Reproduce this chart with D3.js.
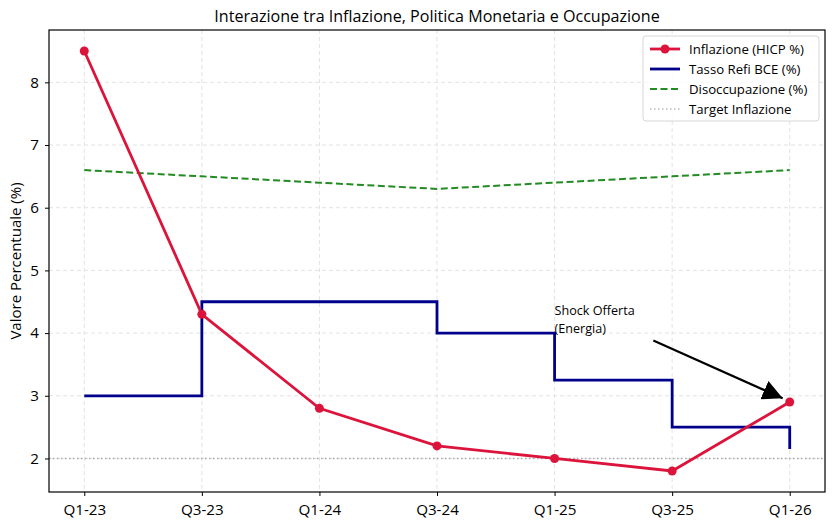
<!DOCTYPE html>
<html>
<head>
<meta charset="utf-8">
<script src="https://cdn.jsdelivr.net/npm/d3@7"></script>
<style>
  body { margin: 0; background: #fff; }
  svg text { font-family: "Open Sans", Roboto, sans-serif; fill: #000; }
</style>
</head>
<body>
<div class="div-chart"></div>
<script>
// data
const quarters = ['Q1-23', 'Q3-23', 'Q1-24', 'Q3-24', 'Q1-25', 'Q3-25', 'Q1-26'];
const inflation = [8.5, 4.3, 2.8, 2.2, 2.0, 1.8, 2.9];
const refiRate = [3.0, 4.5, 4.5, 4.0, 3.25, 2.5, 2.15];
const unemployment = [6.6, 6.5, 6.4, 6.3, 6.4, 6.5, 6.6];
const targetInflation = 2;
const yTicks = [2, 3, 4, 5, 6, 7, 8];

const width = 834, height = 528;
const margin = { top: 30, right: 9, bottom: 36, left: 49 };

const svg = d3.select('.div-chart')
    .append('svg')
    .attr('width', width)
    .attr('height', height);

const x = d3.scaleLinear()
    .domain([-0.3, quarters.length - 1 + 0.3])
    .range([margin.left, width - margin.right]);

const y = d3.scaleLinear()
    .domain([1.465, 8.835])
    .range([height - margin.bottom, margin.top]);

// grid
const grid = svg.append('g');
grid.selectAll('.vgrid')
    .data(quarters)
    .enter().append('line')
    .attr('x1', (d, i) => x(i)).attr('x2', (d, i) => x(i))
    .attr('y1', margin.top).attr('y2', height - margin.bottom)
    .attr('stroke', '#e3e3e3').attr('stroke-dasharray', '4,3');
grid.selectAll('.hgrid')
    .data(yTicks)
    .enter().append('line')
    .attr('x1', margin.left).attr('x2', width - margin.right)
    .attr('y1', d => y(d)).attr('y2', d => y(d))
    .attr('stroke', '#e3e3e3').attr('stroke-dasharray', '4,3');

// target line
svg.append('line')
    .attr('x1', margin.left).attr('x2', width - margin.right)
    .attr('y1', y(targetInflation)).attr('y2', y(targetInflation))
    .attr('stroke', '#aaaaaa').attr('stroke-width', 1.5)
    .attr('stroke-dasharray', '1.5,2.5');

// unemployment
const line = d3.line().x((d, i) => x(i)).y(d => y(d));
svg.append('path')
    .attr('d', line(unemployment))
    .attr('fill', 'none').attr('stroke', '#228b22')
    .attr('stroke-width', 2).attr('stroke-dasharray', '7,3.5');

// refi rate (step)
svg.append('path')
    .attr('d', line.curve(d3.curveStepAfter)(refiRate))
    .attr('fill', 'none').attr('stroke', '#00008b')
    .attr('stroke-width', 2.8);
line.curve(d3.curveLinear);

// inflation
svg.append('path')
    .attr('d', line(inflation))
    .attr('fill', 'none').attr('stroke', '#dc143c')
    .attr('stroke-width', 2.8);
svg.selectAll('.dot')
    .data(inflation)
    .enter().append('circle')
    .attr('cx', (d, i) => x(i)).attr('cy', d => y(d))
    .attr('r', 4.5).attr('fill', '#dc143c');

// annotation
svg.append('defs').append('marker')
    .attr('id', 'arrow')
    .attr('viewBox', '0 0 10 10')
    .attr('refX', 10).attr('refY', 5)
    .attr('markerWidth', 20).attr('markerHeight', 20)
    .attr('markerUnits', 'userSpaceOnUse')
    .attr('orient', 'auto')
    .append('path').attr('d', 'M0,0 L10,5 L0,10 Z').attr('fill', '#000');

svg.append('line')
    .attr('x1', x(4.84)).attr('y1', y(3.88))
    .attr('x2', x(5.94)).attr('y2', y(2.96))
    .attr('stroke', '#000').attr('stroke-width', 2.2)
    .attr('marker-end', 'url(#arrow)');
svg.append('text')
    .attr('x', x(4)).attr('y', y(4) - 18)
    .attr('font-size', 12.6).text('Shock Offerta');
svg.append('text')
    .attr('x', x(4)).attr('y', y(4) - 0.5)
    .attr('font-size', 12.6).text('(Energia)');

// axes
const xAxis = svg.append('g')
    .attr('transform', `translate(0,${height - margin.bottom})`)
    .call(d3.axisBottom(x).tickValues(d3.range(quarters.length))
        .tickFormat(i => quarters[i]).tickSize(4).tickPadding(8));
const yAxis = svg.append('g')
    .attr('transform', `translate(${margin.left},0)`)
    .call(d3.axisLeft(y).tickValues(yTicks).tickSize(4).tickPadding(6));
[xAxis, yAxis].forEach(a => {
    a.select('.domain').remove();
    a.selectAll('text').attr('font-size', 15.2);
});

// frame
svg.append('rect')
    .attr('x', margin.left).attr('y', margin.top)
    .attr('width', width - margin.left - margin.right)
    .attr('height', height - margin.top - margin.bottom)
    .attr('fill', 'none').attr('stroke', '#000').attr('stroke-width', 1.2);

// titles
svg.append('text')
    .attr('x', (margin.left + width - margin.right) / 2).attr('y', 22)
    .attr('text-anchor', 'middle').attr('font-size', 16.1)
    .text('Interazione tra Inflazione, Politica Monetaria e Occupazione');
svg.append('text')
    .attr('transform', `translate(21,${(margin.top + height - margin.bottom) / 2}) rotate(-90)`)
    .attr('text-anchor', 'middle').attr('font-size', 15)
    .text('Valore Percentuale (%)');

// legend
const legendItems = [
    { label: 'Inflazione (HICP %)', color: '#dc143c', dash: null, w: 2.8, dot: true },
    { label: 'Tasso Refi BCE (%)', color: '#00008b', dash: null, w: 2.8 },
    { label: 'Disoccupazione (%)', color: '#228b22', dash: '7,3.5', w: 2 },
    { label: 'Target Inflazione', color: '#bbbbbb', dash: '1.5,2.5', w: 1.5 }
];
const legend = svg.append('g').attr('transform', 'translate(643,36)');
legend.append('rect')
    .attr('width', 176).attr('height', 85).attr('rx', 3)
    .attr('fill', '#fff').attr('fill-opacity', 0.8)
    .attr('stroke', '#d6d6d6');
const li = legend.selectAll('.li')
    .data(legendItems)
    .enter().append('g')
    .attr('transform', (d, i) => `translate(0,${13 + i * 20})`);
li.append('line')
    .attr('x1', 7).attr('x2', 37)
    .attr('stroke', d => d.color).attr('stroke-width', d => d.w)
    .attr('stroke-dasharray', d => d.dash);
li.filter(d => d.dot).append('circle')
    .attr('cx', 22).attr('r', 4.5).attr('fill', d => d.color);
li.append('text')
    .attr('x', 46).attr('dy', '0.35em')
    .attr('font-size', 13.2)
    .text(d => d.label);
</script>
</body>
</html>
